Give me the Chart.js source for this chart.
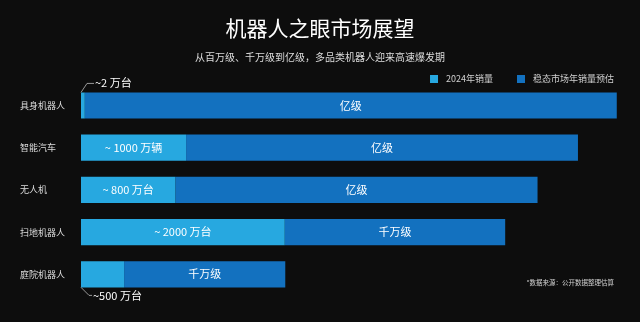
<!DOCTYPE html>
<html>
<head>
<meta charset="utf-8">
<script src="https://cdn.jsdelivr.net/npm/chart.js@4.4.0/dist/chart.umd.min.js"></script>
<style>
  html, body { margin: 0; padding: 0; background: #0d0d0d; }
  #wrap { width: 640px; height: 322px; }
</style>
</head>
<body>
<div id="wrap"><canvas id="marketChart"></canvas></div>
<script>
const categories = ['具身机器人', '智能汽车', '无人机', '扫地机器人', '庭院机器人'];
// bar lengths are relative (not to scale): 2024 part + the rest of the steady-state forecast
const sales2024 = [0.7, 19.5, 17.5, 37.8, 8.0];
const forecastRest = [98.7, 72.7, 67.2, 40.9, 29.9];
const salesLabels = ['~2 万台', '~ 1000 万辆', '~ 800 万台', '~ 2000 万台', '~500 万台'];
const forecastLabels = ['亿级', '亿级', '亿级', '千万级', '千万级'];
// where the 2024 label goes when the segment is too thin: above / below the bar
const salesCallout = ['above', '', '', '', 'below'];
const seriesNames = ['2024年销量', '稳态市场年销量预估'];
const axisMax = 100;

const FONT = "'Noto Sans CJK SC', 'Noto Sans', sans-serif";
const LIGHT = '#27a8e0';
const DARK = '#1371bf';

// legend, footnote and bar labels
const overlayPlugin = {
    id: 'overlay',
    afterDatasetsDraw(chart) {
        const ctx = chart.ctx;
        ctx.save();

        // segment labels
        const m0 = chart.getDatasetMeta(0);
        const m1 = chart.getDatasetMeta(1);
        ctx.font = '11px ' + FONT;
        ctx.fillStyle = '#ffffff';
        ctx.textBaseline = 'middle';
        categories.forEach((c, i) => {
            const b0 = m0.data[i];
            const b1 = m1.data[i];
            // dark part
            ctx.textAlign = 'center';
            ctx.fillText(forecastLabels[i], (b1.base + b1.x) / 2, b1.y);

            const side = salesCallout[i];
            if (!side) {
                ctx.fillText(salesLabels[i], (b0.base + b0.x) / 2, b0.y);
                return;
            }
            const h = b0.height / 2;
            const x0 = b0.base;
            ctx.strokeStyle = '#bbbbbb';
            ctx.lineWidth = 0.8;
            ctx.beginPath();
            if (side === 'above') {
                const y0 = b0.y - h;
                ctx.moveTo(x0, y0);
                ctx.lineTo(x0 + 6, y0 - 9);
                ctx.lineTo(x0 + 13, y0 - 9);
                ctx.stroke();
                ctx.textAlign = 'left';
                ctx.fillText(salesLabels[i], x0 + 14, y0 - 10);
            } else {
                const y0 = b0.y + h;
                ctx.moveTo(x0, y0);
                ctx.lineTo(x0 + 8, y0 + 8);
                ctx.lineTo(x0 + 11, y0 + 8);
                ctx.stroke();
                ctx.textAlign = 'left';
                ctx.fillText(salesLabels[i], x0 + 12, y0 + 8);
            }
        });

        // legend
        ctx.font = '9px ' + FONT;
        ctx.textAlign = 'left';
        const colors = [LIGHT, DARK];
        let x = 614;
        const y = 79;
        for (let i = seriesNames.length - 1; i >= 0; i--) {
            const w = ctx.measureText(seriesNames[i]).width;
            x -= w;
            ctx.fillStyle = '#d0d0d0';
            ctx.fillText(seriesNames[i], x, y);
            x -= 16;
            ctx.fillStyle = colors[i];
            ctx.fillRect(x, y - 4, 8, 8);
            x -= 24;
        }

        // footnote
        ctx.font = '6.5px ' + FONT;
        ctx.fillStyle = '#d0d0d0';
        ctx.textAlign = 'right';
        ctx.fillText('*数据来源：公开数据整理估算', 614, 283);

        ctx.restore();
    }
};

const ctx = document.getElementById('marketChart').getContext('2d');
const chart = new Chart(ctx, {
    type: 'bar',
    data: {
        labels: categories,
        datasets: [{
            label: seriesNames[0],
            data: sales2024,
            backgroundColor: LIGHT,
            borderWidth: 0,
            categoryPercentage: 1,
            barPercentage: 0.62
        }, {
            label: seriesNames[1],
            data: forecastRest,
            backgroundColor: DARK,
            borderWidth: 0,
            categoryPercentage: 1,
            barPercentage: 0.62
        }]
    },
    options: {
        indexAxis: 'y',
        responsive: true,
        maintainAspectRatio: false,
        animation: false,
        layout: {
            padding: { left: 20, right: 20, top: 0, bottom: 26.6 }
        },
        scales: {
            x: {
                stacked: true,
                min: 0,
                max: axisMax,
                display: false
            },
            y: {
                stacked: true,
                grid: { display: false },
                border: { display: false },
                ticks: {
                    crossAlign: 'far',
                    color: '#dddddd',
                    font: { family: FONT, size: 9 }
                },
                afterFit(scale) {
                    scale.width = 61;
                }
            }
        },
        plugins: {
            legend: { display: false },
            tooltip: { enabled: false },
            title: {
                display: true,
                text: '机器人之眼市场展望',
                color: '#ffffff',
                font: { family: FONT, size: 21, weight: 'normal' },
                padding: { top: 15, bottom: 5 }
            },
            subtitle: {
                display: true,
                text: '从百万级、千万级到亿级，多品类机器人迎来高速爆发期',
                color: '#dddddd',
                font: { family: FONT, size: 10 },
                padding: { top: 5.8, bottom: 21.4 }
            }
        }
    },
    plugins: [overlayPlugin]
});
</script>
</body>
</html>
